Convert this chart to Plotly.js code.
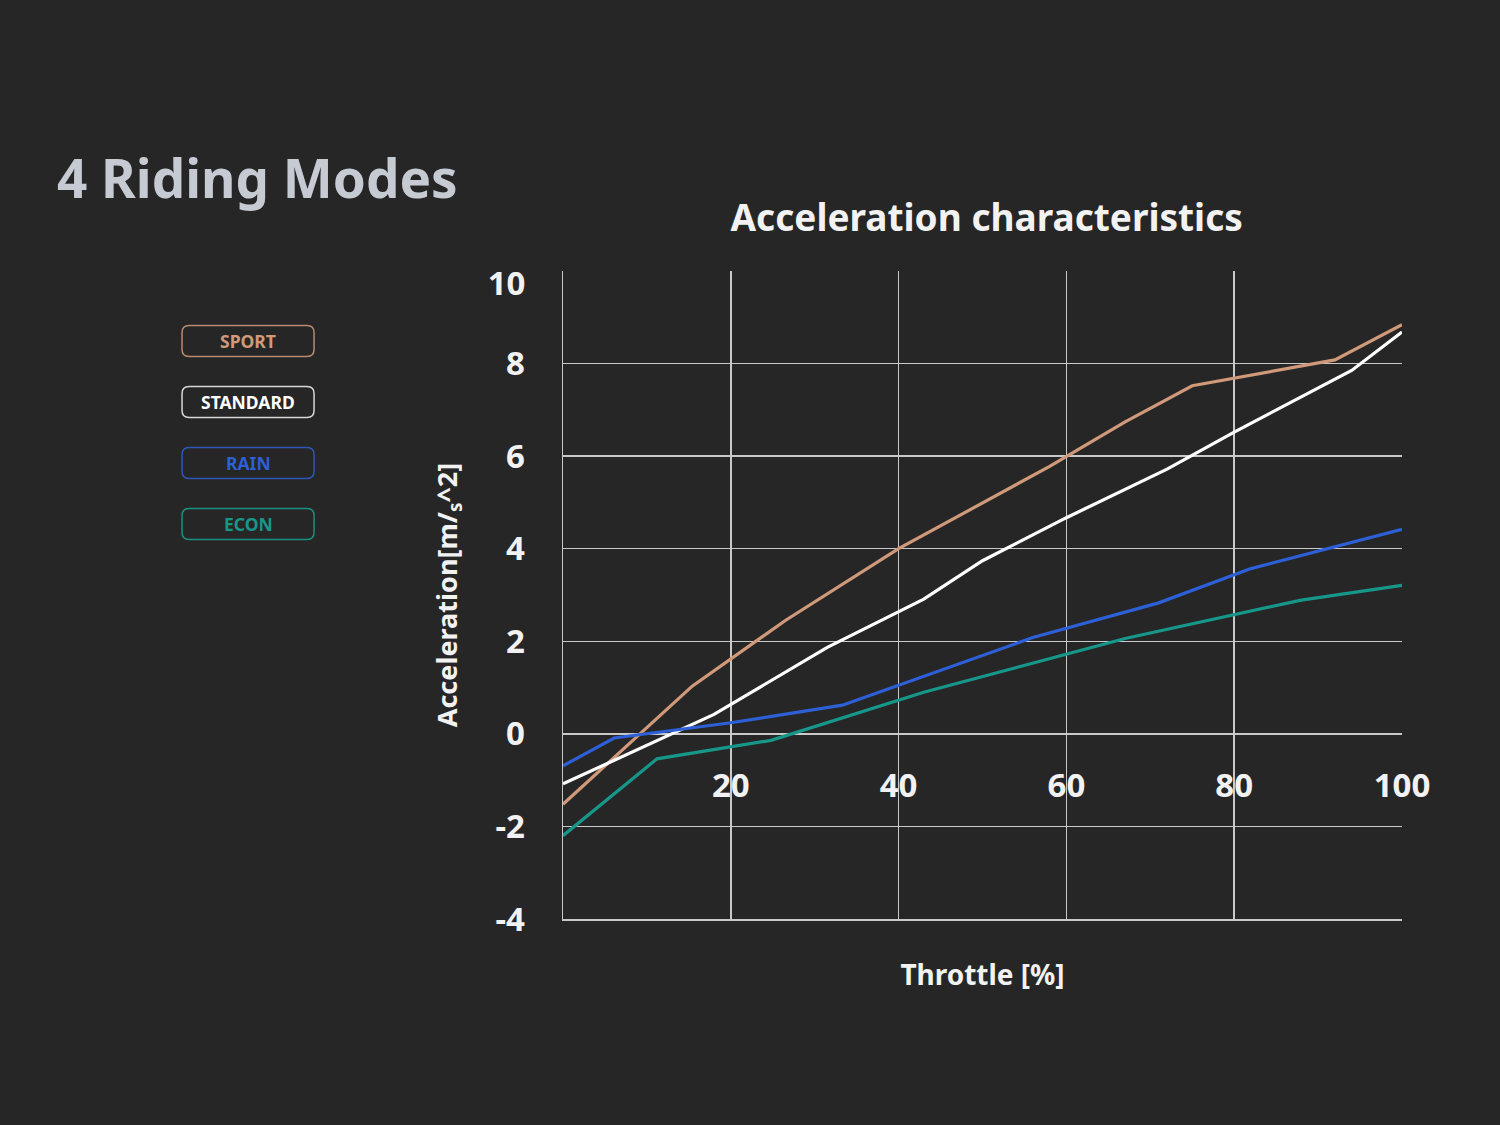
<!DOCTYPE html>
<html>
<head>
<meta charset="utf-8">
<script src="https://cdn.plot.ly/plotly-3.0.1.min.js"></script>
<style>
  html, body { margin: 0; padding: 0; background: #262626; }
  #chart { width: 1500px; height: 1125px; }
</style>
</head>
<body>
<div id="chart"></div>
<script>
// throttle [%] / acceleration [m/s^2]
var sportX = [0, 15.4, 26.5, 40, 58, 67, 75, 80, 92, 100];
var sportY = [-1.52, 1.03, 2.45, 4.0, 5.78, 6.74, 7.52, 7.68, 8.08, 8.84];

var standardX = [0, 18, 31.5, 43, 50, 60, 72, 80, 94, 100];
var standardY = [-1.08, 0.42, 1.87, 2.91, 3.74, 4.67, 5.72, 6.52, 7.85, 8.68];

var rainX = [0, 6.1, 20, 33.3, 56, 71, 82, 100];
var rainY = [-0.69, -0.09, 0.24, 0.62, 2.08, 2.83, 3.57, 4.42];

var econX = [0, 11.2, 24.8, 43, 67, 72, 88, 100];
var econY = [-2.2, -0.54, -0.14, 0.9, 2.06, 2.26, 2.89, 3.21];

var modes = ['SPORT', 'STANDARD', 'RAIN', 'ECON'];
var colors = ['#d09a7a', '#ffffff', '#2d5fd6', '#17978a'];
var borders = ['#b98a70', '#d8d8d8', '#2f57b8', '#1b8f82'];

var xGridVals = [0, 20, 40, 60, 80];
var xLabelVals = [20, 40, 60, 80, 100];
var yTickVals = [-4, -2, 0, 2, 4, 6, 8];
var yTickText = ['-4', '-2', '0', '2', '4', '6', '8'];
var yTopVal = [10];

var font = 'Noto Sans, Open Sans, sans-serif';
var gridColor = '#c9c9c9';

function line(x, y, name, color) {
    return {
        type: 'scatter',
        mode: 'lines',
        x: x,
        y: y,
        name: name,
        line: { color: color, width: 3.2 }
    };
}

var data = [
    line(sportX, sportY, modes[0], colors[0]),
    line(standardX, standardY, modes[1], colors[1]),
    line(rainX, rainY, modes[2], colors[2]),
    line(econX, econY, modes[3], colors[3]),
    // invisible point so the overlay axes (x labels at y=0, "10" label) get drawn
    {
        type: 'scatter',
        mode: 'markers',
        x: [xLabelVals[0]],
        y: yTopVal,
        xaxis: 'x2',
        yaxis: 'y2',
        marker: { opacity: 0 },
        hoverinfo: 'skip',
        showlegend: false
    }
];

// legend buttons at the left, drawn as rounded boxes
function roundRect(w, h, r) {
    var a = w / 2, b = h / 2;
    return 'M ' + (-a + r) + ' ' + (-b) +
        ' L ' + (a - r) + ' ' + (-b) + ' Q ' + a + ' ' + (-b) + ' ' + a + ' ' + (-b + r) +
        ' L ' + a + ' ' + (b - r) + ' Q ' + a + ' ' + b + ' ' + (a - r) + ' ' + b +
        ' L ' + (-a + r) + ' ' + b + ' Q ' + (-a) + ' ' + b + ' ' + (-a) + ' ' + (b - r) +
        ' L ' + (-a) + ' ' + (-b + r) + ' Q ' + (-a) + ' ' + (-b) + ' ' + (-a + r) + ' ' + (-b) + ' Z';
}

var legendX = -0.3754;
var legendY = [0.892, 0.798, 0.7037, 0.6096];

var shapes = [];
var annotations = [];
for (let i = 0; i < modes.length; i++) {
    shapes.push({
        type: 'path',
        xref: 'paper', yref: 'paper',
        xsizemode: 'pixel', ysizemode: 'pixel',
        xanchor: legendX, yanchor: legendY[i],
        path: roundRect(132, 31, 7),
        line: { color: borders[i], width: 1.5 },
        fillcolor: 'rgba(0,0,0,0)'
    });
    annotations.push({
        xref: 'paper', yref: 'paper',
        x: legendX, y: legendY[i],
        xanchor: 'center', yanchor: 'middle',
        showarrow: false,
        text: modes[i],
        font: { family: font, size: 17.5, weight: 700, color: colors[i] }
    });
}

annotations.push({
    xref: 'paper', yref: 'paper',
    x: -0.6055, y: 1.145,
    xanchor: 'left', yanchor: 'middle',
    showarrow: false,
    text: '4 Riding Modes',
    font: { family: font, size: 53, weight: 700, color: '#c6cad2' }
});

var tickFont = { family: font, size: 33, weight: 700, color: '#f2f2f2' };

var layout = {
    width: 1500,
    height: 1125,
    paper_bgcolor: '#262626',
    plot_bgcolor: '#262626',
    showlegend: false,
    margin: { l: 563, r: 98, t: 271, b: 206 },
    title: {
        text: 'Acceleration characteristics',
        x: 0.505, xref: 'paper',
        y: 1 - 218 / 1125, yref: 'container', yanchor: 'middle',
        font: { family: font, size: 37, weight: 700, color: '#f2f2f2' }
    },
    xaxis: {
        range: [0, 100],
        tickvals: xGridVals,
        showticklabels: false,
        showgrid: true,
        gridcolor: gridColor,
        gridwidth: 1.5,
        zeroline: false,
        showline: true,
        linecolor: gridColor,
        linewidth: 1.5,
        title: {
            text: 'Throttle [%]',
            standoff: 46,
            font: { family: font, size: 28, weight: 700, color: '#f2f2f2' }
        }
    },
    xaxis2: {
        overlaying: 'x',
        anchor: 'free',
        position: 0.285,
        range: [0, 100],
        tickvals: xLabelVals,
        ticks: 'outside',
        ticklen: 22,
        tickcolor: 'rgba(0,0,0,0)',
        showgrid: false,
        zeroline: false,
        showline: false,
        tickfont: tickFont
    },
    yaxis: {
        range: [-4, 10],
        tickvals: yTickVals,
        ticktext: yTickText,
        ticks: 'outside',
        ticklen: 30,
        tickcolor: 'rgba(0,0,0,0)',
        showgrid: true,
        gridcolor: gridColor,
        gridwidth: 1.5,
        zeroline: false,
        showline: true,
        linecolor: gridColor,
        linewidth: 1.5,
        tickfont: tickFont,
        title: {
            text: 'Acceleration[m/<sub>s</sub>^2]',
            standoff: 30,
            font: { family: font, size: 27, weight: 700, color: '#f2f2f2' }
        }
    },
    yaxis2: {
        overlaying: 'y',
        side: 'left',
        range: [-4, 10],
        tickvals: yTopVal,
        ticks: 'outside',
        ticklen: 30,
        tickcolor: 'rgba(0,0,0,0)',
        ticklabelshift: 12,
        showgrid: false,
        zeroline: false,
        showline: false,
        tickfont: tickFont
    },
    shapes: shapes,
    annotations: annotations
};

Plotly.newPlot('chart', data, layout, { displayModeBar: false, staticPlot: true });
</script>
</body>
</html>
